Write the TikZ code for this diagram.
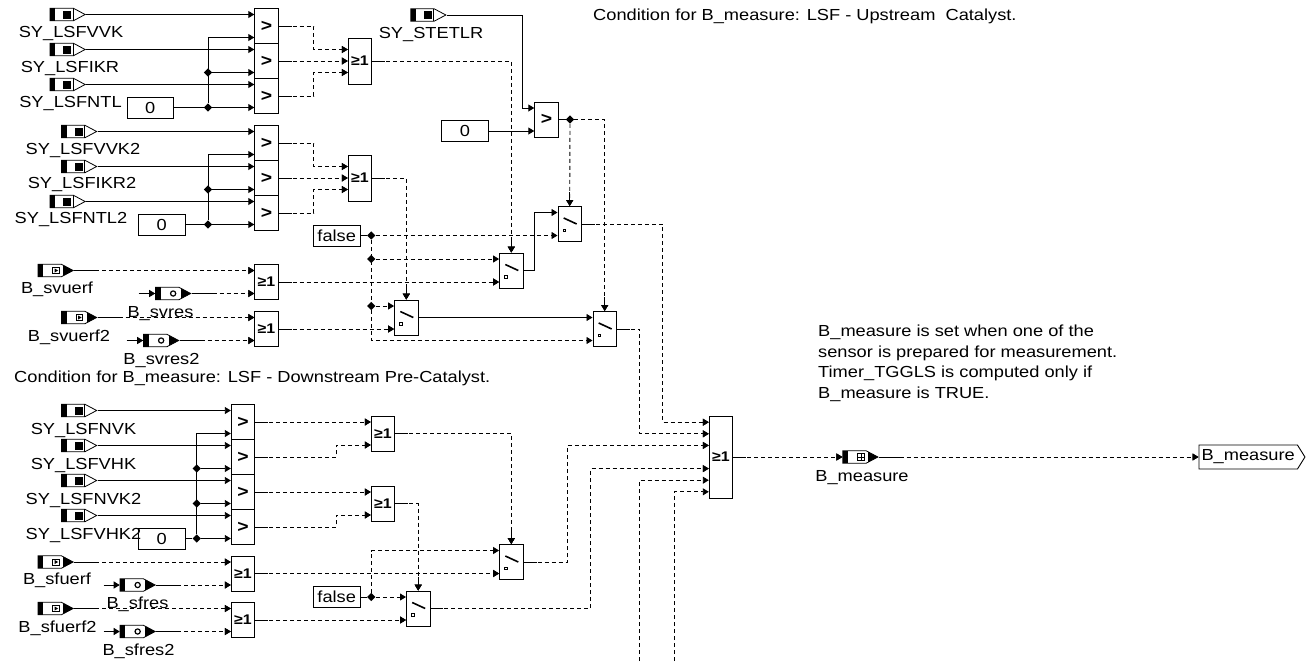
\documentclass[tikz,border=0pt]{standalone}
\usepackage{fontspec}
\setmainfont[FakeStretch=1.14]{Liberation Sans}
\usetikzlibrary{arrows.meta,shapes.geometric,shapes.symbols}
\def\ppb{path picture bounding box}
\newcommand{\syflag}{%
        \fill[black] (\ppb.north west) rectangle ([xshift=5pt]\ppb.south west);
        \fill[black] ([shift={(13pt,4pt)}]\ppb.west) rectangle ([shift={(21pt,-4pt)}]\ppb.west);
        \draw ([xshift=23pt]\ppb.north west) -- ([xshift=23pt]\ppb.south west);}
\newcommand{\bflag}{%
        \fill[black] (\ppb.north west) rectangle ([xshift=5pt]\ppb.south west);
        \fill[black] ([xshift=25pt]\ppb.north west) rectangle (\ppb.south east);}
\tikzset{
        lbl/.style={anchor=base,inner sep=0pt},
        note/.style={anchor=base west,inner sep=0pt},
        wire/.style={line width=0.9pt,-{Triangle[length=6pt,width=7pt]}},
        line/.style={line width=0.9pt},
        sig/.style={line width=0.9pt,dash pattern=on 4pt off 3pt,-{Triangle[length=6pt,width=7pt]}},
        sigout/.style={sig,postaction={draw,dash pattern=on 13pt off 2000pt}},
        sigport/.style={sig,postaction={draw,dash pattern=on 21pt off 2000pt}},
        gatebox/.style={draw,fill=white,line width=0.9pt,inner sep=0pt,minimum width=23.5pt,minimum height=35pt},
        twopins/.style={append after command={\pgfextra{\edef\gname{\tikzlastnode}}([yshift=11.5pt]\gname.west) coordinate (\gname-a) ([yshift=-11.5pt]\gname.west) coordinate (\gname-b)}},
        cmpbox/.style={gatebox,twopins,font=\bfseries\fontsize{17}{17}\selectfont},
        orbox/.style={gatebox,twopins,font=\bfseries\fontsize{14}{14}\selectfont},
        swbox/.style={gatebox,twopins,path picture={
                \draw[line width=1.6pt] ([shift={(-6pt,6pt)}]\ppb.center) -- ([shift={(7pt,0pt)}]\ppb.center);
                \draw[line width=0.8pt] ([shift={(-6.5pt,-5pt)}]\ppb.center) rectangle ([shift={(-4pt,-7.5pt)}]\ppb.center);}},
        conbox/.style={draw,fill=white,line width=0.9pt,inner sep=0pt,minimum width=46.5pt,minimum height=21pt},
        dot/.style={diamond,fill,inner sep=0pt,minimum size=8.5pt},
        portbody/.style={signal,signal to=east,draw,fill=white,line width=0.8pt,inner sep=0pt,minimum width=35pt,minimum height=12.6pt,signal pointer angle=56,anchor=east},
        syport/.style={portbody,path picture={\syflag}},
        bport/.style={portbody,path picture={\bflag
                \draw[fill=white,line width=0.6pt] ([shift={(14.5pt,3pt)}]\ppb.west) rectangle ([shift={(21pt,-3pt)}]\ppb.west);
                \fill[black] ([shift={(16.5pt,2pt)}]\ppb.west) -- ([shift={(20pt,0pt)}]\ppb.west) -- ([shift={(16.5pt,-2pt)}]\ppb.west) -- cycle;}},
        rport/.style={portbody,path picture={\bflag
                \draw[line width=1.2pt] ([xshift=17.5pt]\ppb.west) circle (2.6pt);}},
        mport/.style={portbody,path picture={\bflag
                \draw[line width=0.6pt] ([shift={(14.5pt,3.5pt)}]\ppb.west) rectangle ([shift={(21.5pt,-3.5pt)}]\ppb.west);
                \draw[line width=0.6pt] ([xshift=14.5pt]\ppb.west) -- ([xshift=21.5pt]\ppb.west);
                \draw[line width=0.6pt] ([shift={(18pt,3.5pt)}]\ppb.west) -- ([shift={(18pt,-3.5pt)}]\ppb.west);}},
        outport/.style={signal,signal to=east,draw,line width=0.9pt,inner sep=0pt,minimum width=106pt,minimum height=24pt,signal pointer angle=116,anchor=west}
}
\begin{document}
\begin{tikzpicture}[x=1pt,y=-1pt,font=\fontsize{16}{21}\selectfont]
        \useasboundingbox (0,0) rectangle (1309,662);

        \node[note] (txtUp) at (593,20.5) {Condition for B\_measure: LSF - Upstream\ \ Catalyst.};
        \node[note] (txtDown) at (14,382.5) {Condition for B\_measure: LSF - Downstream Pre-Catalyst.};
        \node[note] (txtA) at (818,336.5) {B\_measure is set when one of the};
        \node[note] (txtB) at (818,357) {sensor is prepared for measurement.};
        \node[note] (txtC) at (818,377.5) {Timer\_TGGLS is computed only if};
        \node[note] (txtD) at (818,398.5) {B\_measure is TRUE.};

        \node[cmpbox] (cmpA) at (266.5,26) {>};
        \node[cmpbox] (cmpB) at (266.5,61) {>};
        \node[cmpbox] (cmpC) at (266.5,96) {>};
        \node[cmpbox] (cmpD) at (266.5,143) {>};
        \node[cmpbox] (cmpE) at (266.5,178) {>};
        \node[cmpbox] (cmpF) at (266.5,213) {>};
        \node[cmpbox] (cmpG) at (546.5,119.5) {>};
        \node[cmpbox] (cmpH) at (243,422) {>};
        \node[cmpbox] (cmpI) at (243,457) {>};
        \node[cmpbox] (cmpJ) at (243,492) {>};
        \node[cmpbox] (cmpK) at (243,527) {>};

        \node[orbox,minimum height=46pt] (orA) at (360,61) {≥1};
        \node[orbox,minimum height=46pt] (orB) at (360,178) {≥1};
        \node[orbox] (orC) at (266.5,282) {≥1};
        \node[orbox] (orD) at (266.5,329) {≥1};
        \node[orbox] (orE) at (383,433.5) {≥1};
        \node[orbox] (orF) at (383,503.5) {≥1};
        \node[orbox] (orG) at (243,573.5) {≥1};
        \node[orbox] (orH) at (243,620) {≥1};
        \node[orbox,minimum height=82pt] (orM) at (721,457) {≥1};

        \node[swbox] (swA) at (511.3,270.5) {};
        \node[swbox] (swB) at (569.7,224) {};
        \node[swbox] (swC) at (406.3,317.5) {};
        \node[swbox] (swD) at (604.7,329) {};
        \node[swbox] (swE) at (511.3,562) {};
        \node[swbox] (swF) at (418.2,608.5) {};

        \node[conbox] (conA) at (150.3,107.5) {0};
        \node[conbox] (conB) at (161.7,224.5) {0};
        \node[conbox] (conC) at (465,131) {0};
        \node[conbox] (conD) at (161.7,538.5) {0};
        \node[conbox] (conF) at (336.7,235.5) {false};
        \node[conbox] (conG) at (336.7,597) {false};

        \node[dot] (dotA) at (208,72.5) {};
        \node[dot] (dotB) at (208,107.5) {};
        \node[dot] (dotC) at (208,189.5) {};
        \node[dot] (dotD) at (208,224.5) {};
        \node[dot] (dotE) at (196.7,468.5) {};
        \node[dot] (dotF) at (196.7,503.5) {};
        \node[dot] (dotG) at (196.7,538.5) {};
        \node[dot] (dotH) at (570,119.5) {};
        \node[dot] (dotI) at (371.3,235.5) {};
        \node[dot] (dotJ) at (371.3,259) {};
        \node[dot] (dotK) at (371.3,306) {};
        \node[dot] (dotL) at (371.3,597) {};

        \node[syport] (inVVK) at (86,14.5) {};
        \node[syport] (inIKR) at (86,49.5) {};
        \node[syport] (inNTL) at (86,84.5) {};
        \node[syport] (inVVKb) at (97.5,131.5) {};
        \node[syport] (inIKRb) at (97.5,166.5) {};
        \node[syport] (inNTLb) at (86,201.5) {};
        \node[syport] (inSTE) at (446.7,15) {};
        \node[syport] (inNVK) at (97.5,410.5) {};
        \node[syport] (inVHK) at (97.5,445.5) {};
        \node[syport] (inNVKb) at (97.5,480.5) {};
        \node[syport] (inVHKb) at (97.5,515.5) {};
        \node[bport] (inSvu) at (74,270.5) {};
        \node[rport] (inSvr) at (191.5,293.5) {};
        \node[bport] (inSvub) at (97.5,317.5) {};
        \node[rport] (inSvrb) at (179.5,340.5) {};
        \node[bport] (inSfu) at (74,562) {};
        \node[rport] (inSfr) at (156,585) {};
        \node[bport] (inSfub) at (74,608.5) {};
        \node[rport] (inSfrb) at (156,631.5) {};
        \node[mport] (portM) at (878.7,457) {};
        \node[outport] (outM) at (1198.5,457) {B\_measure};

        \coordinate (feedSvr) at (138.5,293.5);
        \coordinate (feedSvrb) at (126.7,340.5);
        \coordinate (feedSfr) at (103.5,585);
        \coordinate (feedSfrb) at (103.5,631.5);
        \coordinate (offA) at (639.3,661);
        \coordinate (offB) at (674.3,661);

        \draw[wire] (inVVK.east) -- (cmpA-a);
        \draw[wire] (inIKR.east) -- (cmpB-a);
        \draw[wire] (inNTL.east) -- (cmpC-a);
        \draw[line] (conA.east) -- (dotB);
        \draw[wire] (dotB) -- (cmpC-b);
        \draw[wire] (dotA) -- (cmpB-b);
        \draw[wire] (dotB) |- (cmpA-b);
        \draw[sigout] (cmpA.east) -- ++(35,0) |- (orA-a);
        \draw[sigout] (cmpB.east) -- (orA.west);
        \draw[sigout] (cmpC.east) -- ++(35,0) |- (orA-b);

        \draw[wire] (inVVKb.east) -- (cmpD-a);
        \draw[wire] (inIKRb.east) -- (cmpE-a);
        \draw[wire] (inNTLb.east) -- (cmpF-a);
        \draw[line] (conB.east) -- (dotD);
        \draw[wire] (dotD) -- (cmpF-b);
        \draw[wire] (dotC) -- (cmpE-b);
        \draw[wire] (dotD) |- (cmpD-b);
        \draw[sigout] (cmpD.east) -- ++(35,0) |- (orB-a);
        \draw[sigout] (cmpE.east) -- (orB.west);
        \draw[sigout] (cmpF.east) -- ++(35,0) |- (orB-b);

        \draw[wire] (inSTE.east) -| ([xshift=-12pt]cmpG-a) -- (cmpG-a);
        \draw[wire] (conC.east) -- (cmpG-b);
        \draw[line] (cmpG.east) -- (dotH);
        \draw[sig] (dotH) -- (swB.north);
        \draw[sig] (dotH) -| (swD.north);
        \draw[wire] ([yshift=14pt]swB.north) -- (swB.north);
        \draw[wire] ([yshift=14pt]swD.north) -- (swD.north);

        \draw[sigout] (orA.east) -| (swA.north);
        \draw[sigout] (orB.east) -| (swC.north);
        \draw[wire] ([yshift=14pt]swA.north) -- (swA.north);
        \draw[wire] ([yshift=14pt]swC.north) -- (swC.north);

        \draw[line] (conF.east) -- (dotI);
        \draw[sig] (dotI) -- (swB-b);
        \draw[sig] (dotJ) -- (swA-a);
        \draw[sig] (dotK) -- (swC-a);
        \draw[sig] (dotI) |- (swD-b);
        \draw[wire] (swA.east) -- ++(11,0) |- (swB-a);
        \draw[wire] (swC.east) -- (swD-a);

        \draw[sigport] (inSvu.east) -- (orC-a);
        \draw[wire] (feedSvr) -- (inSvr.west);
        \draw[sigport] (inSvr.east) -- (orC-b);
        \draw[sigport] (inSvub.east) -- (orD-a);
        \draw[wire] (feedSvrb) -- (inSvrb.west);
        \draw[sigport] (inSvrb.east) -- (orD-b);
        \draw[sigout] (orC.east) -- (swA-b);
        \draw[sigout] (orD.east) -- (swC-b);

        \draw[wire] (inNVK.east) -- (cmpH-a);
        \draw[wire] (inVHK.east) -- (cmpI-a);
        \draw[wire] (inNVKb.east) -- (cmpJ-a);
        \draw[wire] (inVHKb.east) -- (cmpK-a);
        \draw[line] (conD.east) -- (dotG);
        \draw[wire] (dotG) -- (cmpK-b);
        \draw[wire] (dotF) -- (cmpJ-b);
        \draw[wire] (dotE) -- (cmpI-b);
        \draw[wire] (dotG) |- (cmpH-b);
        \draw[sigout] (cmpH.east) -- (orE-a);
        \draw[sigout] (cmpI.east) -- ++(81.3,0) |- (orE-b);
        \draw[sigout] (cmpJ.east) -- (orF-a);
        \draw[sigout] (cmpK.east) -- ++(81.3,0) |- (orF-b);
        \draw[sigout] (orE.east) -| (swE.north);
        \draw[sigout] (orF.east) -| (swF.north);
        \draw[wire] ([yshift=14pt]swE.north) -- (swE.north);
        \draw[wire] ([yshift=14pt]swF.north) -- (swF.north);

        \draw[sigport] (inSfu.east) -- (orG-a);
        \draw[wire] (feedSfr) -- (inSfr.west);
        \draw[sigport] (inSfr.east) -- (orG-b);
        \draw[sigport] (inSfub.east) -- (orH-a);
        \draw[wire] (feedSfrb) -- (inSfrb.west);
        \draw[sigport] (inSfrb.east) -- (orH-b);
        \draw[sigout] (orG.east) -- (swE-b);
        \draw[sigout] (orH.east) -- (swF-b);
        \draw[line] (conG.east) -- (dotL);
        \draw[sig] (dotL) |- (swE-a);
        \draw[sig] (dotL) -- (swF-a);

        \draw[sigout] (swB.east) -- ++(81,0) |- ([yshift=34.8pt]orM.west);
        \draw[sigout] (swD.east) -- ++(22.6,0) |- ([yshift=23.2pt]orM.west) ;
        \draw[sigout] (swE.east) -- ++(44,0) |- ([yshift=11.6pt]orM.west);
        \draw[sigout] (swF.east) -- ++(160.5,0) |- ([yshift=-11.6pt]orM.west);
        \draw[sig] (offA) |- ([yshift=-23.2pt]orM.west);
        \draw[sig] (offB) |- ([yshift=-34.8pt]orM.west);
        \draw[sigout] (orM.east) -- (portM.west);
        \draw[sigport] (portM.east) -- (outM.west);

        \node[lbl] (lblVVK) at (71,37.5) {SY\_LSFVVK};
        \node[lbl] (lblIKR) at (70,72.5) {SY\_LSFIKR};
        \node[lbl] (lblNTL) at (70.5,107.5) {SY\_LSFNTL};
        \node[lbl] (lblVVKb) at (83,154.5) {SY\_LSFVVK2};
        \node[lbl] (lblIKRb) at (82,188.5) {SY\_LSFIKR2};
        \node[lbl] (lblNTLb) at (71,223.5) {SY\_LSFNTL2};
        \node[lbl] (lblSTE) at (431,38) {SY\_STETLR};
        \node[lbl] (lblNVK) at (83.5,434) {SY\_LSFNVK};
        \node[lbl] (lblVHK) at (83.5,469) {SY\_LSFVHK};
        \node[lbl] (lblNVKb) at (83.5,504) {SY\_LSFNVK2};
        \node[lbl] (lblVHKb) at (83.5,539) {SY\_LSFVHK2};
        \node[lbl] (lblSvu) at (57,293.5) {B\_svuerf};
        \node[lbl] (lblSvr) at (160.5,317.5) {B\_svres};
        \node[lbl] (lblSvub) at (69,341) {B\_svuerf2};
        \node[lbl] (lblSvrb) at (161.5,364) {B\_svres2};
        \node[lbl] (lblSfu) at (57,584) {B\_sfuerf};
        \node[lbl] (lblSfr) at (137.5,608.5) {B\_sfres};
        \node[lbl] (lblSfub) at (57.5,632) {B\_sfuerf2};
        \node[lbl] (lblSfrb) at (138.5,655) {B\_sfres2};
        \node[lbl] (lblM) at (862,481) {B\_measure};
\end{tikzpicture}
\end{document}
